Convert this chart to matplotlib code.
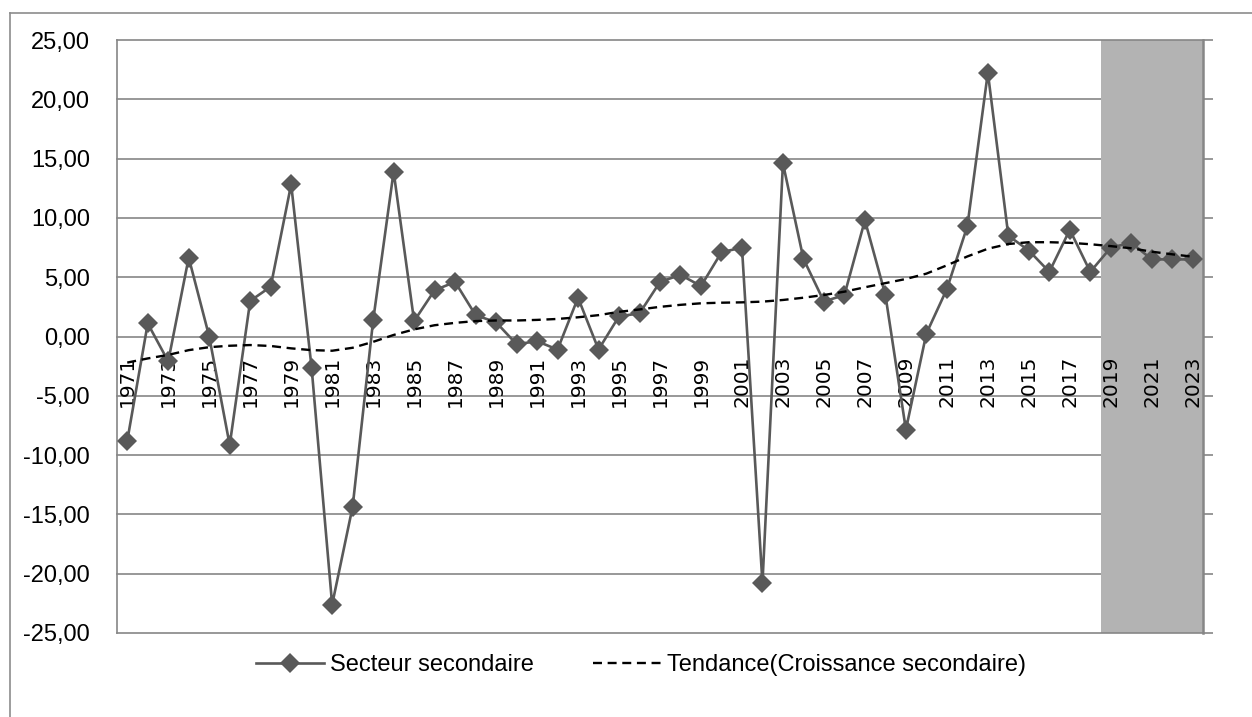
import matplotlib
matplotlib.use("Agg")
import matplotlib.pyplot as plt
from matplotlib.lines import Line2D
from matplotlib.ticker import FuncFormatter, MultipleLocator

years = list(range(1971, 2024))
secteur = [-8.8, 1.1, -2.1, 6.65, 0.0, -9.15, 3.0, 4.2, 12.83, -2.68,
           -22.6, -14.35, 1.35, 13.9, 1.3, 3.9, 4.6, 1.8, 1.2, -0.65,
           -0.4, -1.1, 3.27, -1.1, 1.7, 1.95, 4.6, 5.2, 4.25, 7.1,
           7.5, -20.8, 14.6, 6.55, 2.95, 3.5, 9.8, 3.5, -7.85, 0.25,
           4.0, 9.3, 22.25, 8.5, 7.25, 5.45, 9.0, 5.45, 7.5, 7.9,
           6.5, 6.5, 6.5]
tendance = [-2.2, -1.85, -1.55, -1.15, -0.9, -0.78, -0.72, -0.8, -1.0, -1.15,
            -1.2, -0.95, -0.45, 0.13, 0.6, 0.95, 1.15, 1.3, 1.35, 1.35,
            1.4, 1.48, 1.62, 1.8, 2.08, 2.28, 2.5, 2.67, 2.8, 2.85,
            2.88, 2.94, 3.08, 3.27, 3.5, 3.78, 4.15, 4.5, 4.85, 5.3,
            6.0, 6.75, 7.4, 7.8, 7.95, 7.95, 7.9, 7.78, 7.62, 7.44,
            7.15, 6.93, 6.73]
projection_start = 2019
label_series = "Secteur secondaire"
label_trend = "Tendance(Croissance secondaire)"

grey = "#868686"
x = list(range(len(years)))
ymin, ymax = -25, 25

fig = plt.figure(figsize=(12.52, 7.17), dpi=100)
ax = fig.add_axes([117 / 1252, 84 / 717, 1086 / 1252, 593 / 717])

ax.set_xlim(-0.5, len(years) - 0.5)
ax.set_ylim(ymin, ymax)
ax.yaxis.set_major_locator(MultipleLocator(5))
ax.yaxis.set_major_formatter(FuncFormatter(lambda v, p: f"{v:.2f}".replace(".", ",")))

# horizontal gridlines, inner ones kept under the shaded block
for v in ax.get_yticks():
    if ymin <= v <= ymax:
        edge = v in (ymin, ymax)
        ax.axhline(v, color=grey, lw=1.2, zorder=2 if edge else 0.5, clip_on=False)

# shaded projection period
i0 = years.index(projection_start)
ax.axvspan(i0 - 0.5, len(years) - 0.5, color="#b3b3b3", lw=0, zorder=1)

ax.plot(x, secteur, color="#595959", lw=1.9, marker="D", markersize=10.5,
        markeredgewidth=0, label=label_series, zorder=3)
ax.plot(x, tendance, color="black", lw=1.7, ls=(0, (3.8, 2.4)),
        label=label_trend, zorder=4)

ax.spines["top"].set_visible(False)
for s in ["left", "right"]:
    ax.spines[s].set_color(grey)
    ax.spines[s].set_linewidth(1.2)
ax.spines["right"].set_linewidth(1.8)
# category labels sit on the zero line
ax.spines["bottom"].set_position(("data", 0))
ax.spines["bottom"].set_color("none")

ax.tick_params(axis="y", left=False, right=True, labelright=False,
               direction="out", length=7, color=grey, width=1.2,
               pad=12.5, labelsize=17)
for t in ax.get_yticklabels():
    t.set_fontfamily("Liberation Sans")

ax.set_xticks(x[::2])
ax.set_xticklabels([str(y) for y in years[::2]], rotation=90,
                   fontsize=14.5, family="DejaVu Sans")
ax.tick_params(axis="x", length=0, pad=14)

leg = fig.legend(loc="center", bbox_to_anchor=(0.512, 0.0725), ncol=2,
                 frameon=False, prop={"family": "Liberation Sans", "size": 17},
                 handlelength=2.9, handletextpad=0.25, columnspacing=2.5)

# chart area border
fig.add_artist(Line2D([10 / 1252, 1], [1 - 13 / 717, 1 - 13 / 717],
                      color="#8c8c8c", lw=1.2))
fig.add_artist(Line2D([10 / 1252, 10 / 1252], [0, 1 - 13 / 717],
                      color="#8c8c8c", lw=1.2))

fig.savefig("out.png", dpi=100)
